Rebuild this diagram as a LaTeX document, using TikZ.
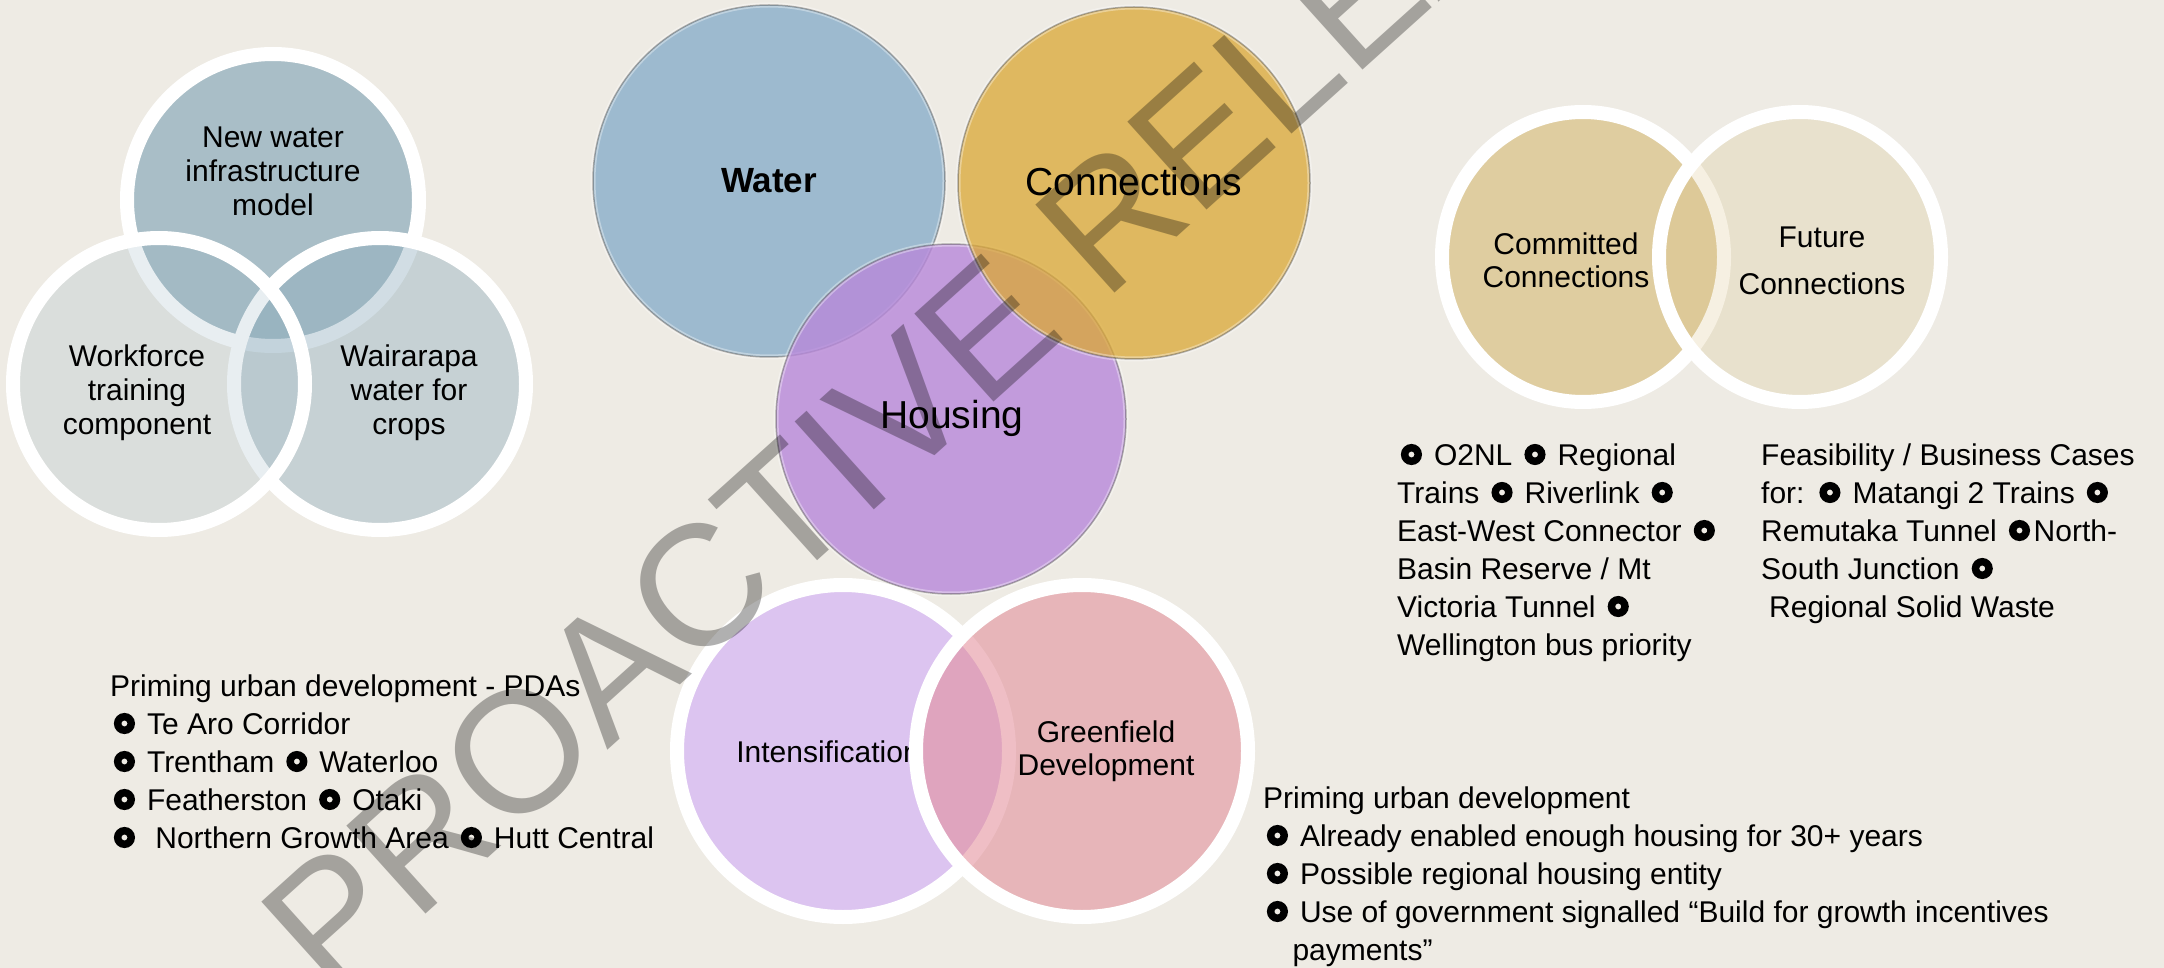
\documentclass[tikz,border=0pt]{standalone}
\usepackage{fontspec}
\setmainfont{Liberation Sans}
\usepackage{xcolor}
\usepackage{tikz}
\definecolor{paper}{RGB}{238,235,228}
\definecolor{slate}{RGB}{140,172,188}
\definecolor{sand}{RGB}{215,190,125}
\definecolor{lilac}{RGB}{220,196,240}
\definecolor{rose}{RGB}{226,138,150}
\definecolor{waterblue}{RGB}{157,186,207}
\definecolor{housepurple}{RGB}{184,136,218}
\definecolor{connyellow}{RGB}{219,168,52}
\def\topcircle{(273,200) circle (146)}
\def\leftcircle{(159,384) circle (146)}
\def\rightcircle{(380,384) circle (146)}
\def\watercircle{(769,181) circle (176)}
\def\conncircle{(1134,183) circle (176)}
\def\housingcircle{(951,419) circle (175)}
\def\committedcircle{(1583,257) ellipse (141 and 145)}
\def\futurecircle{(1800,257) ellipse (141 and 145)}
\def\intenscircle{(843,751) circle (166)}
\def\greencircle{(1082,751) circle (166)}
\newcommand{\ringbul}{\kern3.75pt\tikz[baseline=-10.5pt]\draw[line width=7.5pt] (0pt,0pt) circle[radius=6.75pt];\kern3.75pt}

\begin{document}
\begin{tikzpicture}[x=1pt,y=-1pt,
    ringline/.style={draw=white, line width=14pt},
    glossrim/.style={draw=white, draw opacity=0.35, line width=5pt},
    glossedge/.style={draw=black, draw opacity=0.3, line width=1.5pt},
    lbl/.style={align=center, inner sep=0pt, font=\fontsize{30}{34}\selectfont},
    biglbl/.style={inner sep=0pt, font=\fontsize{39}{44}\selectfont},
    listtext/.style={align=left, anchor=base west, inner sep=0pt, font=\fontsize{30}{38}\selectfont}]
  \useasboundingbox (0,0) rectangle (2164,968);
  \fill[paper] (0,0) rectangle (2164,968);

  \fill[slate, fill opacity=0.7] \topcircle;
  \draw[ringline] \topcircle;
  \fill[slate, fill opacity=0.4] \rightcircle;
  \draw[ringline] \rightcircle;
  \fill[slate, fill opacity=0.2] \leftcircle;
  \draw[ringline] \leftcircle;
  \node[lbl] (newwater) at (273,171) {New water\\infrastructure\\model};
  \node[lbl] (workforce) at (137,393) {Workforce\\training\\component};
  \node[lbl] (wairarapa) at (409,393) {Wairarapa\\water for\\crops};

  \fill[waterblue] \watercircle;
  \draw[glossrim] \watercircle;
  \draw[glossedge] \watercircle;
  \fill[housepurple, fill opacity=0.8] \housingcircle;
  \draw[glossrim] \housingcircle;
  \draw[glossedge] \housingcircle;
  \fill[connyellow, fill opacity=0.75] \conncircle;
  \draw[glossrim] \conncircle;
  \draw[glossedge] \conncircle;
  \node[biglbl, font=\bfseries\fontsize{35}{40}\selectfont] (water) at (769,181) {Water};
  \node[biglbl] (connections) at (1134,182) {Connections};
  \node[biglbl] (housing) at (952,418) {Housing};

  \fill[sand, fill opacity=0.65] \committedcircle;
  \draw[ringline] \committedcircle;
  \node[lbl, font=\fontsize{30}{33}\selectfont] (committed) at (1566,260) {Committed\\Connections};
  \fill[sand, fill opacity=0.22] \futurecircle;
  \draw[ringline] \futurecircle;
  \node[lbl, font=\fontsize{30}{47}\selectfont] (future) at (1822,261) {Future\\Connections};

  \fill[lilac] \intenscircle;
  \draw[ringline] \intenscircle;
  \node[lbl] (intens) at (828,752) {Intensification};
  \fill[rose, fill opacity=0.55] \greencircle;
  \draw[ringline] \greencircle;
  \node[lbl, font=\fontsize{30}{33}\selectfont] (green) at (1106,751) {Greenfield\\Development};

  \node[listtext] (pdas) at (110,848) {Priming urban development - PDAs\\
    \ringbul{} Te Aro Corridor\\
    \ringbul{} Trentham \ringbul{} Waterloo\\
    \ringbul{} Featherston \ringbul{} Otaki\\
    \ringbul{}\ \ Northern Growth Area \ringbul{} Hutt Central};
  \node[listtext] (committedlist) at (1397,655) {\ringbul{} O2NL \ringbul{} Regional\\
    Trains \ringbul{} Riverlink \ringbul\\
    East-West Connector \ringbul\\
    Basin Reserve / Mt\\
    Victoria Tunnel \ringbul\\
    Wellington bus priority};
  \node[listtext] (futurelist) at (1761,617) {Feasibility / Business Cases\\
    for: \ringbul{} Matangi 2 Trains \ringbul\\
    Remutaka Tunnel \ringbul{}North-\\
    South Junction \ringbul\\
    \hspace*{8pt}Regional Solid Waste};
  \node[listtext] (priming) at (1263,960) {Priming urban development\\
    \ringbul{} Already enabled enough housing for 30+ years\\
    \ringbul{} Possible regional housing entity\\
    \ringbul{} Use of government signalled “Build for growth incentives\\
    \hspace*{29.3pt}payments”};

  \begin{scope}
    \clip (0,0) rectangle (2164,968);
    \node[rotate=42, anchor=base west, text=black, text opacity=0.31, inner sep=0pt, font=\fontsize{172}{172}\selectfont] (stamp) at (330,1000) {PROACTIVE RELEASE};
  \end{scope}
\end{tikzpicture}
\end{document}
